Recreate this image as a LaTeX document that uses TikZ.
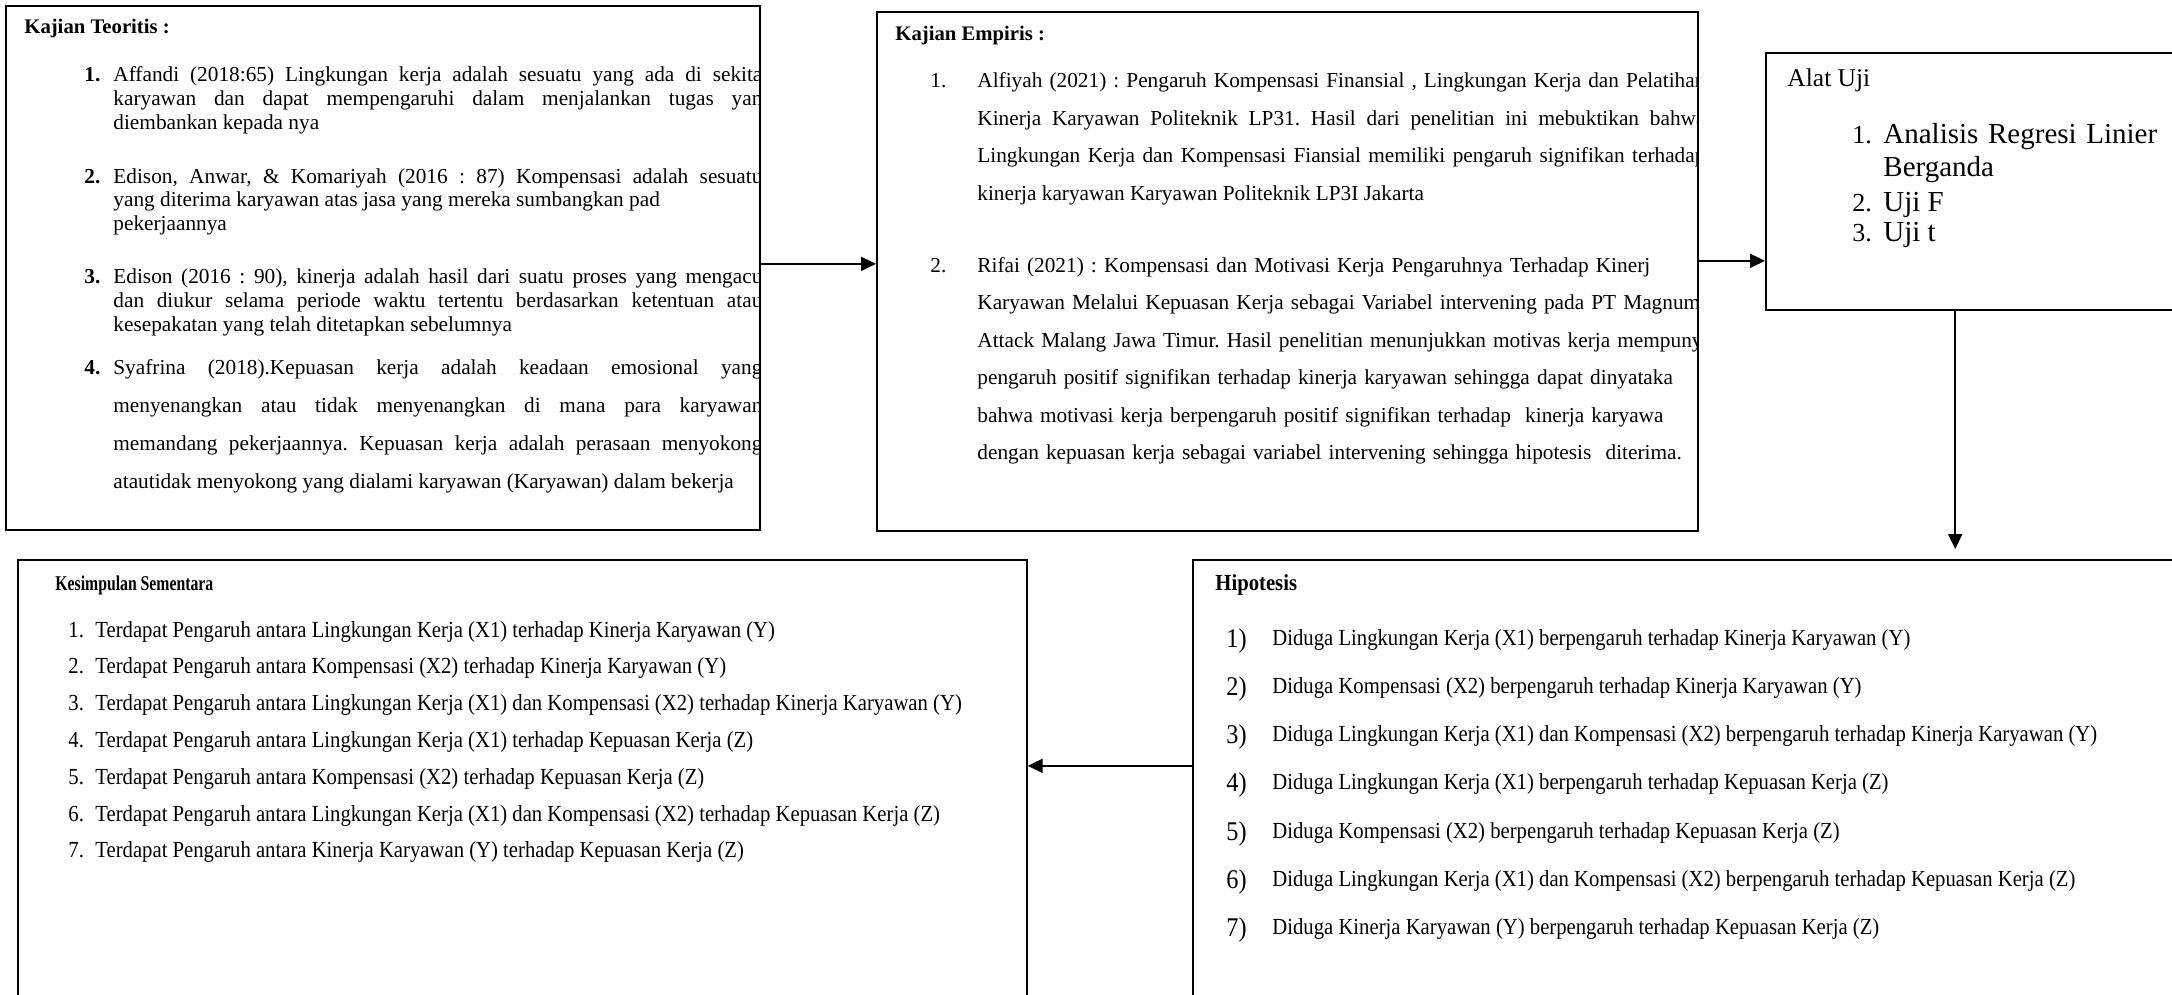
\documentclass[tikz,border=0pt]{standalone}
\usepackage{fontspec}
\setmainfont{Liberation Serif}
\newfontfamily\sempit{Liberation Serif}[FakeStretch=0.9]
\newfontfamily\sempitsekali{Liberation Serif}[FakeStretch=0.75]
\usetikzlibrary{arrows.meta}
\frenchspacing

\tikzset{
  kotak/.style={draw, line width=0.85pt, anchor=north west, inner sep=0pt},
  panah/.style={-{Triangle[length=7.5pt,width=7pt]}, line width=1pt},
  judul/.style={anchor=base west, inner sep=0pt, font=\bfseries\fontsize{10.35}{12}\selectfont},
  isi/.style={anchor=base west, inner sep=0pt, font=\fontsize{10.65}{12}\selectfont},
  uji/.style={anchor=base west, inner sep=0pt, font=\fontsize{14.5}{17}\selectfont},
  ujinomor/.style={anchor=base west, inner sep=0pt, font=\fontsize{13}{15}\selectfont},
  bawah/.style={anchor=base west, inner sep=0pt, font=\sempit\fontsize{11.5}{13}\selectfont},
}

\begin{document}
\begin{tikzpicture}[x=0.5pt,y=-0.5pt]
  \useasboundingbox (0,0) rectangle (2172,995);
  \clip (0,0) rectangle (2172,995);
  % kotak
  \node[kotak, minimum width=377pt, minimum height=262pt] (teori) at (5,5) {};
  \node[kotak, minimum width=410.5pt, minimum height=259.5pt] (empiris) at (876,11) {};
  \node[kotak, line width=1.2pt, minimum width=230pt, minimum height=128.5pt] (alat) at (1765,52) {};
  \node[kotak, minimum width=504.5pt, minimum height=240pt] (simpul) at (17,559) {};
  \node[kotak, minimum width=525pt, minimum height=240pt] (hipo) at (1192,559) {};

  % kajian teoritis
  \begin{scope}
    \clip (teori.north west) rectangle (teori.south east);
    \node[judul] (teori-j) at (24,34) {Kajian Teoritis :};
    \node[isi, font=\bfseries\fontsize{10.65}{12}\selectfont] (teori-n1) at (84,82) {1.};
    \node[isi, font=\bfseries\fontsize{10.65}{12}\selectfont] (teori-n2) at (84,183) {2.};
    \node[isi, font=\bfseries\fontsize{10.65}{12}\selectfont] (teori-n3) at (84,283) {3.};
    \node[isi, font=\bfseries\fontsize{10.65}{12}\selectfont] (teori-n4) at (84,374) {4.};
    \node[isi, text width=324.5pt, align=justify] (teori-1) at (113,82)
      {Affandi (2018:65) Lingkungan kerja adalah sesuatu yang ada di sekita\linebreak
       karyawan dan dapat mempengaruhi dalam menjalankan tugas yan\linebreak
       diembankan kepada nya};
    \node[isi, text width=324.5pt, align=justify] (teori-2) at (113,183)
      {Edison, Anwar, \& Komariyah (2016 : 87) Kompensasi adalah sesuatu\linebreak
       yang diterima karyawan atas jasa yang mereka sumbangkan pad\\
       pekerjaannya};
    \node[isi, text width=324.5pt, align=justify] (teori-3) at (113,283)
      {Edison (2016 : 90), kinerja adalah hasil dari suatu proses yang mengacu\linebreak
       dan diukur selama periode waktu tertentu berdasarkan ketentuan atau\linebreak
       kesepakatan yang telah ditetapkan sebelumnya};
    \node[isi, font=\fontsize{10.65}{19}\selectfont, text width=324.5pt, align=justify] (teori-4) at (113,374)
      {Syafrina (2018).Kepuasan kerja adalah keadaan emosional yang\linebreak
       menyenangkan atau tidak menyenangkan di mana para karyawan\linebreak
       memandang pekerjaannya. Kepuasan kerja adalah perasaan menyokong\linebreak
       atautidak menyokong yang dialami karyawan (Karyawan) dalam bekerja};
  \end{scope}

  % kajian empiris
  \begin{scope}
    \clip (empiris.north west) rectangle (empiris.south east);
    \node[judul] (emp-j) at (895,41) {Kajian Empiris :};
    \node[isi] (emp-n1) at (930,88) {1.};
    \node[isi] (emp-n2) at (930,272) {2.};
    \node[isi, font=\fontsize{10.65}{18.75}\selectfont, text width=364pt, align=justify] (emp-1) at (977,88)
      {Alfiyah (2021) : Pengaruh Kompensasi Finansial , Lingkungan Kerja dan Pelatihan\linebreak
       Kinerja Karyawan Politeknik LP31. Hasil dari penelitian ini mebuktikan bahwa\linebreak
       Lingkungan Kerja dan Kompensasi Fiansial memiliki pengaruh signifikan terhadap\linebreak
       kinerja karyawan Karyawan Politeknik LP3I Jakarta};
    \node[isi, font=\fontsize{10.65}{18.75}\selectfont, text width=420pt, align=left] (emp-2) at (977,272)
      {Rifai (2021) : Kompensasi dan Motivasi Kerja Pengaruhnya Terhadap Kinerj\\
       Karyawan Melalui Kepuasan Kerja sebagai Variabel intervening pada PT Magnum\\
       Attack Malang Jawa Timur. Hasil penelitian menunjukkan motivas kerja mempuny\\
       pengaruh positif signifikan terhadap kinerja karyawan sehingga dapat dinyataka\\
       bahwa motivasi kerja berpengaruh positif signifikan terhadap\ \ kinerja karyawa\\
       dengan kepuasan kerja sebagai variabel intervening sehingga hipotesis\ \ diterima.};
  \end{scope}

  % alat uji
  \node[uji, font=\fontsize{12.75}{15}\selectfont] (alat-j) at (1787,87) {Alat Uji};
  \node[ujinomor] (alat-n1) at (1852,143) {1.};
  \node[uji, text width=150pt, align=left] (alat-1) at (1883,143) {Analisis Regresi Linier\\Berganda};
  \node[ujinomor] (alat-n2) at (1852,211) {2.};
  \node[uji] (alat-2) at (1883,211) {Uji F};
  \node[ujinomor] (alat-n3) at (1852,241) {3.};
  \node[uji] (alat-3) at (1883,241) {Uji t};

  % kesimpulan sementara
  \node[bawah, font=\sempitsekali\bfseries\fontsize{10.5}{12}\selectfont] (simpul-j) at (55,590) {Kesimpulan Sementara};
  \foreach \i/\teks in {
      1/Terdapat Pengaruh antara Lingkungan Kerja (X1) terhadap Kinerja Karyawan (Y),
      2/Terdapat Pengaruh antara Kompensasi (X2) terhadap Kinerja Karyawan (Y),
      3/Terdapat Pengaruh antara Lingkungan Kerja (X1) dan Kompensasi (X2) terhadap Kinerja Karyawan (Y),
      4/Terdapat Pengaruh antara Lingkungan Kerja (X1) terhadap Kepuasan Kerja (Z),
      5/Terdapat Pengaruh antara Kompensasi (X2) terhadap Kepuasan Kerja (Z),
      6/Terdapat Pengaruh antara Lingkungan Kerja (X1) dan Kompensasi (X2) terhadap Kepuasan Kerja (Z),
      7/Terdapat Pengaruh antara Kinerja Karyawan (Y) terhadap Kepuasan Kerja (Z)}{
    \node[bawah] (simpul-n\i) at (68,{637+36.8*(\i-1)}) {\i.};
    \node[bawah] (simpul-\i) at (95,{637+36.8*(\i-1)}) {\teks};
  }

  % hipotesis
  \node[bawah, font=\sempit\bfseries\fontsize{11.5}{13}\selectfont] (hipo-j) at (1215,590) {Hipotesis};
  \foreach \i/\teks in {
      1/Diduga Lingkungan Kerja (X1) berpengaruh terhadap Kinerja Karyawan (Y),
      2/Diduga Kompensasi (X2) berpengaruh terhadap Kinerja Karyawan (Y),
      3/Diduga Lingkungan Kerja (X1) dan Kompensasi (X2) berpengaruh terhadap Kinerja Karyawan (Y),
      4/Diduga Lingkungan Kerja (X1) berpengaruh terhadap Kepuasan Kerja (Z),
      5/Diduga Kompensasi (X2) berpengaruh terhadap Kepuasan Kerja (Z),
      6/Diduga Lingkungan Kerja (X1) dan Kompensasi (X2) berpengaruh terhadap Kepuasan Kerja (Z),
      7/Diduga Kinerja Karyawan (Y) berpengaruh terhadap Kepuasan Kerja (Z)}{
    \node[bawah, font=\sempit\fontsize{13.5}{15}\selectfont] (hipo-n\i) at (1226,{647+48.3*(\i-1)}) {\i)};
    \node[bawah] (hipo-\i) at (1272,{645+48.3*(\i-1)}) {\teks};
  }

  % panah
  \draw[panah] ([yshift=2pt]teori.east) -- ([yshift=2pt]teori.east -| empiris.west);
  \draw[panah] ([yshift=5.25pt]empiris.east) -- ([yshift=5.25pt]empiris.east -| alat.west);
  \draw[panah, line width=1.2pt, shorten >=5pt] ([xshift=-20.5pt]alat.south) -- ([xshift=-20.5pt]alat.south |- hipo.north);
  \draw[panah] ([yshift=17pt]hipo.west) -- ([yshift=17pt]hipo.west -| simpul.east);
\end{tikzpicture}
\end{document}
